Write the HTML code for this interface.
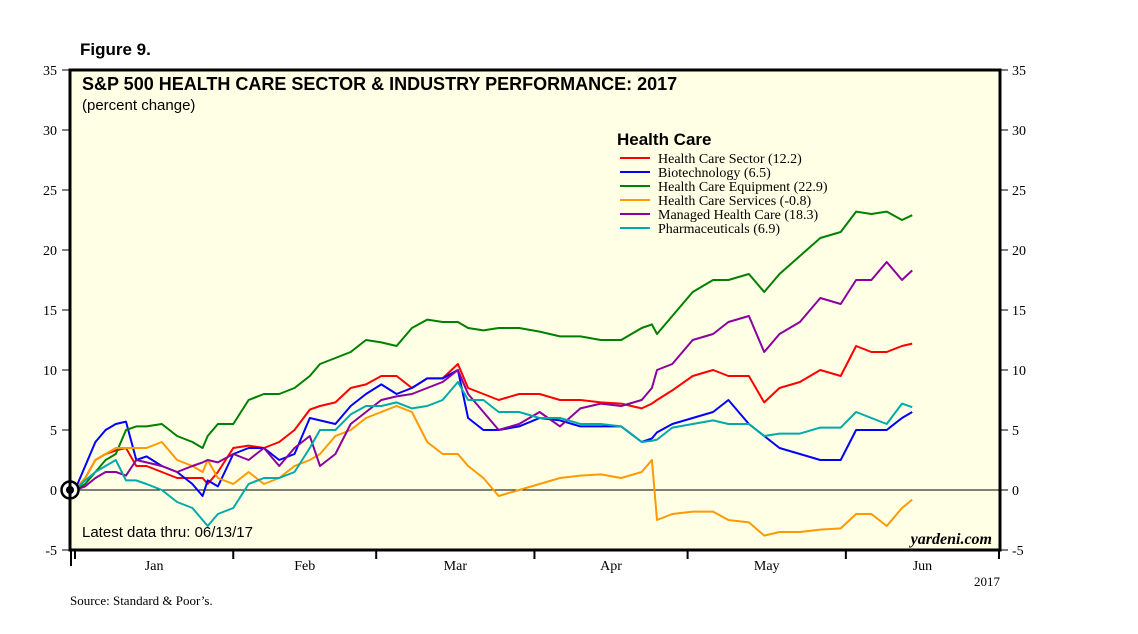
<!DOCTYPE html>
<html><head><meta charset="utf-8"><style>
body{margin:0;background:#fff;width:1138px;height:634px;overflow:hidden}
svg{display:block}
.s{font-family:"Liberation Serif",serif}
.a{font-family:"Liberation Sans",sans-serif}
</style></head><body>
<svg id="c" width="1138" height="634">
<text x="80" y="55" class="a" font-size="17" font-weight="bold">Figure 9.</text>
<rect x="70" y="70" width="930" height="480" fill="#ffffe6"/>
<g id="ax"></g>
<g id="series"></g>
<rect x="70" y="70" width="930" height="480" fill="none" stroke="#000" stroke-width="3"/>
<text x="82" y="90" class="a" font-size="18" font-weight="bold">S&amp;P 500 HEALTH CARE SECTOR &amp; INDUSTRY PERFORMANCE: 2017</text>
<text x="82" y="110" class="a" font-size="15">(percent change)</text>
<text x="617" y="145" class="a" font-size="17" font-weight="bold">Health Care</text>
<g id="legend"></g>
<text x="82" y="537" class="a" font-size="15">Latest data thru: 06/13/17</text>
<text x="992" y="544" class="s" font-size="16" font-style="italic" font-weight="bold" text-anchor="end">yardeni.com</text>
<text x="1000" y="586" class="s" font-size="13" text-anchor="end">2017</text>
<text x="70" y="605" class="s" font-size="13">Source: Standard &amp; Poor’s.</text>
</svg>
<script>
const days=[0,2,4,6,8,10,12,14,17,20,23,25,26,28,31,34,37,40,43,46,48,51,54,57,60,63,66,69,72,75,77,80,83,87,91,95,99,103,107,111,113,114,117,121,125,128,132,135,138,142,146,150,153,156,159,162,164];
const sector=[0,1,2.5,3,3.3,3.5,2,2,1.5,1,1,1,0.5,1.5,3.5,3.7,3.5,4,5,6.7,7,7.3,8.5,8.8,9.5,9.5,8.5,9.3,9.3,10.5,8.5,8,7.5,8,8,7.5,7.5,7.3,7.2,6.8,7.2,7.5,8.3,9.5,10,9.5,9.5,7.3,8.5,9,10,9.5,12,11.5,11.5,12,12.2];
const biotech=[0,2,4,5,5.5,5.7,2.5,2.8,2,1.5,0.5,-0.5,0.8,0.3,3,3.5,3.5,2.5,3,6,5.8,5.5,7,8,8.8,8,8.5,9.3,9.3,10,6,5,5,5.3,6,5.8,5.3,5.3,5.3,4,4.3,4.8,5.5,6,6.5,7.5,5.5,4.5,3.5,3,2.5,2.5,5,5,5,6,6.5];
const equipment=[0,0.5,1.5,2.5,3,5,5.3,5.3,5.5,4.5,4,3.5,4.5,5.5,5.5,7.5,8,8,8.5,9.5,10.5,11,11.5,12.5,12.3,12,13.5,14.2,14,14,13.5,13.3,13.5,13.5,13.2,12.8,12.8,12.5,12.5,13.5,13.8,13,14.5,16.5,17.5,17.5,18,16.5,18,19.5,21,21.5,23.2,23,23.2,22.5,22.9];
const services=[0,1,2.5,3,3.5,3.5,3.5,3.5,4,2.5,2,1.5,2.5,1,0.5,1.5,0.5,1,2,2.5,3,4.5,5,6,6.5,7,6.5,4,3,3,2,1,-0.5,0,0.5,1,1.2,1.3,1,1.5,2.5,-2.5,-2,-1.8,-1.8,-2.5,-2.7,-3.8,-3.5,-3.5,-3.3,-3.2,-2,-2,-3,-1.5,-0.8];
const managed=[0,0.3,1,1.5,1.5,1.2,2.5,2.3,2,1.5,2,2.3,2.5,2.3,3,2.5,3.5,2,3.5,4.5,2,3,5.5,6.5,7.5,7.8,8,8.5,9,10,8,6.5,5,5.5,6.5,5.3,6.8,7.2,7,7.5,8.5,10,10.5,12.5,13,14,14.5,11.5,13,14,16,15.5,17.5,17.5,19,17.5,18.3];
const pharma=[0,0.8,1.5,2,2.5,0.8,0.8,0.5,0,-1,-1.5,-2.5,-3,-2,-1.5,0.5,1,1,1.5,3.5,5,5,6.3,7,7,7.3,6.8,7,7.5,9,7.5,7.5,6.5,6.5,6,6,5.5,5.5,5.3,4,4.1,4.2,5.2,5.5,5.8,5.5,5.5,4.5,4.7,4.7,5.2,5.2,6.5,6,5.5,7.2,6.9];
const seriesNames=["Health Care Sector (12.2)","Biotechnology (6.5)","Health Care Equipment (22.9)","Health Care Services (-0.8)","Managed Health Care (18.3)","Pharmaceuticals (6.9)"];
const yTicks=[-5,0,5,10,15,20,25,30,35];
const monthLabels=["Jan","Feb","Mar","Apr","May","Jun"];
const monthStarts=[0,31,59,90,120,151,181];

const colors=["#ff0000","#0000ff","#008000","#ff9900","#8b00a0","#00aaaa"];
const allSeries=[sector,biotech,equipment,services,managed,pharma];
const NS="http://www.w3.org/2000/svg";
const xS=d=>75+d*(924/181);
const yS=v=>490-v*12;
const ax=document.getElementById('ax');
function mk(tag,at,parent){const e=document.createElementNS(NS,tag);for(const k in at)e.setAttribute(k,at[k]);parent.appendChild(e);return e;}
yTicks.forEach(t=>{
 const y=yS(t);
 const g=mk('g',{},ax);
 
 
 mk('line',{x1:62,x2:70,y1:y,y2:y,stroke:'#000','stroke-width':1},g);
 mk('line',{x1:1000,x2:1008,y1:y,y2:y,stroke:'#000','stroke-width':1},g);
 const l=mk('text',{x:57,y:y+5,'text-anchor':'end','font-size':14,class:'s'},g);l.textContent=t;
 const r=mk('text',{x:1012,y:y+5,'font-size':14,class:'s'},g);r.textContent=t;
});
monthStarts.forEach((d,i)=>{
 const x=xS(d);
 const t=mk('line',{x1:x,x2:x,y1:550,y2:559,stroke:'#000','stroke-width':2},ax);
 
 
 if(i<monthLabels.length){
  const tx=mk('text',{x:(xS(d)+xS(monthStarts[i+1]))/2,y:570,'text-anchor':'middle','font-size':14,class:'s'},ax);
  tx.textContent=monthLabels[i];
  
  
 }
});
const fl=mk('line',{x1:71,x2:71,y1:550,y2:566,stroke:'#000','stroke-width':2},ax);


const zl=mk('line',{x1:70,x2:1000,y1:yS(0),y2:yS(0),stroke:'#000','stroke-width':1},ax);


const sg=document.getElementById('series');
allSeries.forEach((s,i)=>{
 const p=mk('polyline',{points:s.map((v,j)=>xS(days[j]).toFixed(1)+','+yS(v).toFixed(1)).join(' '),fill:'none',stroke:colors[i],'stroke-width':2,'stroke-linejoin':'round'},sg);
 
 
});
const oc=mk('circle',{cx:70,cy:490,r:8.5,fill:'#fff',stroke:'#000','stroke-width':2.5},sg);


const od=mk('circle',{cx:70,cy:490,r:4,fill:'#000'},sg);


const lg=document.getElementById('legend');
seriesNames.forEach((n,i)=>{
 const y=158+i*14;
 const g=mk('g',{},lg);
 
 
 mk('line',{x1:620,x2:650,y1:y,y2:y,stroke:colors[i],'stroke-width':2},g);
 const t=mk('text',{x:658,y:y+5,'font-size':14,class:'s'},g);t.textContent=n;
});
</script>
</body></html>
